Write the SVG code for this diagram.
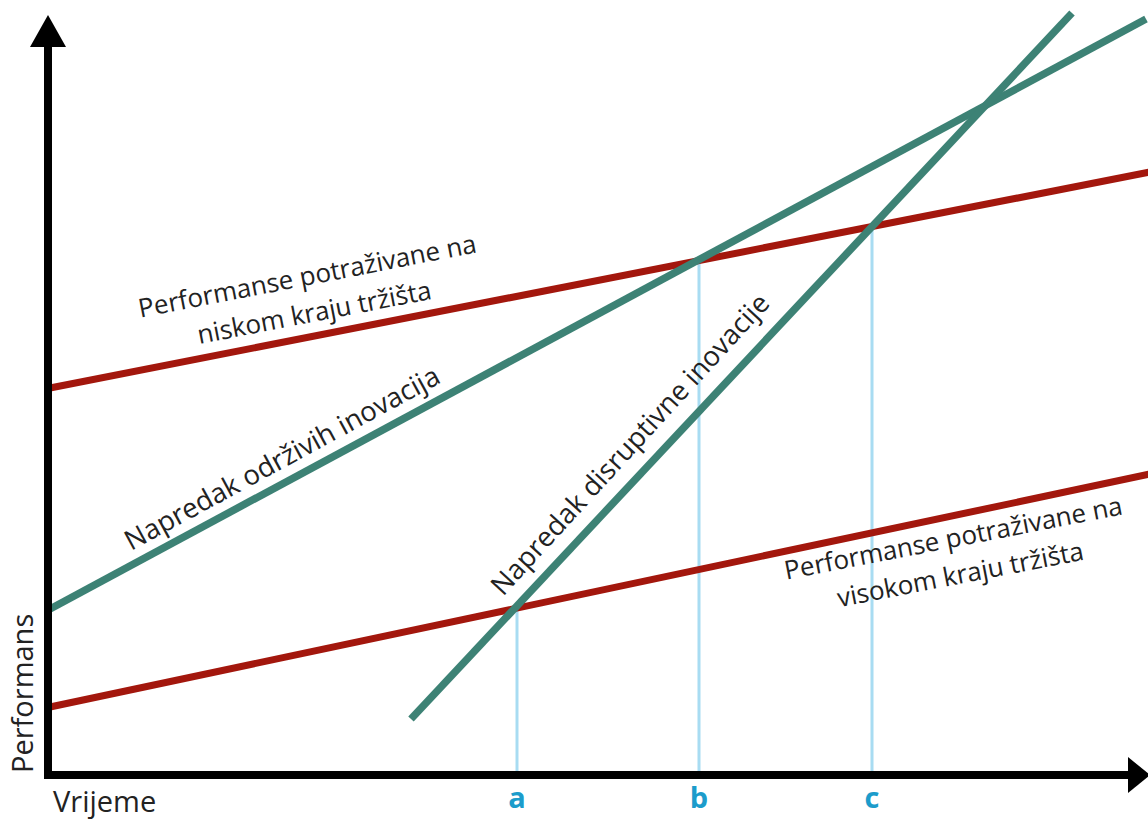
<svg xmlns="http://www.w3.org/2000/svg" width="1148" height="821" viewBox="0 0 1148 821">
<style>
.red{stroke:#A3170D;stroke-width:7;fill:none}
.grn{stroke:#3D8275;stroke-width:7.5;fill:none}
.guide{stroke:#A8DCF2;stroke-width:3;fill:none}
.axis{stroke:#000;stroke-width:8;fill:none}
.lbl{font-family:"Open Sans","Noto Sans",sans-serif;font-size:26px;fill:#222}
.glbl{font-family:"Open Sans","Noto Sans",sans-serif;font-size:27.5px;fill:#222}
.ax{font-family:"Open Sans","Noto Sans",sans-serif;font-size:29px;fill:#222}
.tick{font-family:"Open Sans","Noto Sans",sans-serif;font-size:29px;font-weight:bold;fill:#1C9CCB;text-anchor:middle}
</style>
<rect width="1148" height="821" fill="#fff"/>
<g id="connectors">
  <line class="guide" x1="517" y1="606" x2="517" y2="772"/>
  <line class="guide" x1="699" y1="262" x2="699" y2="772"/>
  <line class="guide" x1="872" y1="228" x2="872" y2="772"/>
  <line id="low-demand" class="red" x1="50" y1="388" x2="1150" y2="172"/>
  <line id="high-demand" class="red" x1="50" y1="707" x2="1150" y2="474"/>
  <line id="sustaining" class="grn" x1="50" y1="609" x2="1146" y2="19"/>
  <line id="disruptive" class="grn" x1="411" y1="719" x2="1072" y2="13"/>
</g>
<g id="axes">
  <line class="axis" x1="48" y1="44" x2="48" y2="779"/>
  <line class="axis" x1="44" y1="775" x2="1130" y2="775"/>
  <polygon points="48,15 30,47 66,47" fill="#000"/>
  <polygon points="1128,757 1150,775 1128,793" fill="#000"/>
</g>
<g id="axis-labels">
  <text class="ax" x="53" y="812">Vrijeme</text>
  <text class="ax" transform="translate(33,773) rotate(-90)">Performans</text>
</g>
<g id="ticks">
  <text class="tick" x="517" y="808">a</text>
  <text class="tick" x="699" y="808">b</text>
  <text class="tick" x="872" y="808">c</text>
</g>
<g id="label-low">
  <text class="lbl" text-anchor="middle" transform="translate(309,285) rotate(-11)"><tspan x="0" y="0">Performanse potraživane na</tspan><tspan x="0" y="37">niskom kraju tržišta</tspan></text>
</g>
<g id="label-high">
  <text class="lbl" text-anchor="middle" transform="translate(955,547) rotate(-11)"><tspan x="0" y="0">Performanse potraživane na</tspan><tspan x="0" y="37">visokom kraju tržišta</tspan></text>
</g>
<g id="label-sustaining">
  <text class="glbl" transform="translate(131,551) rotate(-28.5)">Napredak održivih inovacija</text>
</g>
<g id="label-disruptive">
  <text class="glbl" transform="translate(503,597) rotate(-47.5)">Napredak disruptivne inovacije</text>
</g>
</svg>
